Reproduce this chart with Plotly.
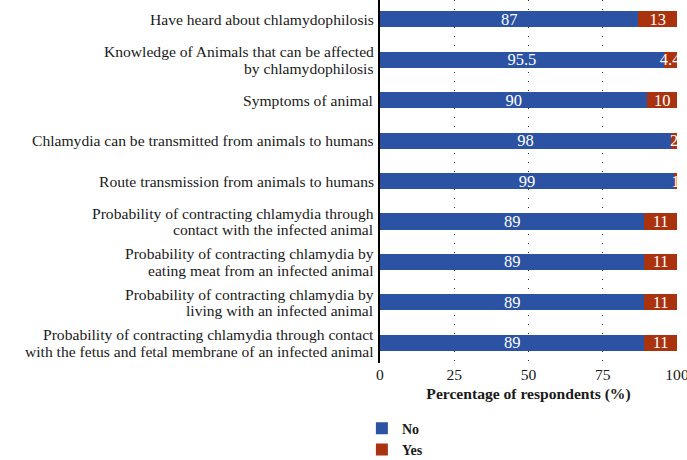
import plotly.graph_objects as go

categories = [
    "Have heard about chlamydophilosis",
    "Knowledge of Animals that can be affected<br>by chlamydophilosis",
    "Symptoms of animal",
    "Chlamydia can be transmitted from animals to humans",
    "Route transmission from animals to humans",
    "Probability of contracting chlamydia through<br>contact with the infected animal",
    "Probability of contracting chlamydia by<br>eating meat from an infected animal",
    "Probability of contracting chlamydia by<br>living with an infected animal",
    "Probability of contracting chlamydia through contact<br>with the fetus and fetal membrane of an infected animal",
]
no_vals = [87, 95.5, 90, 98, 99, 89, 89, 89, 89]
yes_vals = [13, 4.4, 10, 2, 1, 11, 11, 11, 11]
x_ticks = [0, 25, 50, 75, 100]

SERIF = "Liberation Serif"
BLUE = "#2b52a3"
RED = "#a9330f"
TXT = "#1a1a1a"

fig = go.Figure()
for name, vals, col in [("No", no_vals, BLUE), ("Yes", yes_vals, RED)]:
    fig.add_trace(go.Bar(
        y=categories, x=vals, orientation="h", name=f"<b>{name}</b>",
        marker=dict(color=col, line=dict(width=0)),
        text=[f"{v:g}" for v in vals], textposition="inside", insidetextanchor="middle",
        textangle=0, constraintext="none", cliponaxis=False,
        textfont=dict(family=SERIF, size=16.5, color="white"), width=0.40,
    ))

# category labels drawn as text annotations (tight line spacing like the original)
annotations = []
for cat in categories:
    lines = cat.split("<br>")
    n = len(lines)
    for i, ln in enumerate(lines):
        annotations.append(dict(
            xref="paper", yref="y", x=0, y=cat, text=ln, showarrow=False,
            xanchor="right", yanchor="middle", xshift=-4,
            yshift=(n - 1) / 2 * 16.5 - i * 16.5,
            font=dict(family=SERIF, size=15.6, color=TXT),
        ))

fig.update_layout(
    width=687, height=460,
    margin=dict(l=380, r=10, t=0, b=97, autoexpand=False),
    barmode="stack",
    plot_bgcolor="white", paper_bgcolor="white",
    font=dict(family=SERIF, size=15.6, color=TXT),
    uniformtext=dict(minsize=8, mode="show"),
    showlegend=True,
    annotations=annotations,
    legend=dict(orientation="v", x=-0.061, xanchor="left", y=-0.137, yanchor="top",
                traceorder="normal", font=dict(family=SERIF, size=14, color=TXT),
                itemwidth=30, tracegroupgap=0, bgcolor="rgba(0,0,0,0)"),
    xaxis=dict(range=[0, 100], tickvals=x_ticks, ticktext=[str(t) for t in x_ticks],
               showgrid=True, gridcolor="#333333", griddash="1px,8px", gridwidth=1,
               zeroline=False, showline=False, ticks="", ticklabeloverflow="allow",
               tickfont=dict(family=SERIF, size=15.6, color=TXT),
               title=dict(text="<b>Percentage of respondents (%)</b>", standoff=6,
                          font=dict(family=SERIF, size=15.6, color=TXT))),
    yaxis=dict(categoryorder="array", categoryarray=categories,
               range=[8.5, -0.48], showgrid=False, zeroline=False,
               showticklabels=False,
               showline=True, linecolor="black", linewidth=1.5, ticks=""),
)

fig.write_html("out.html")
